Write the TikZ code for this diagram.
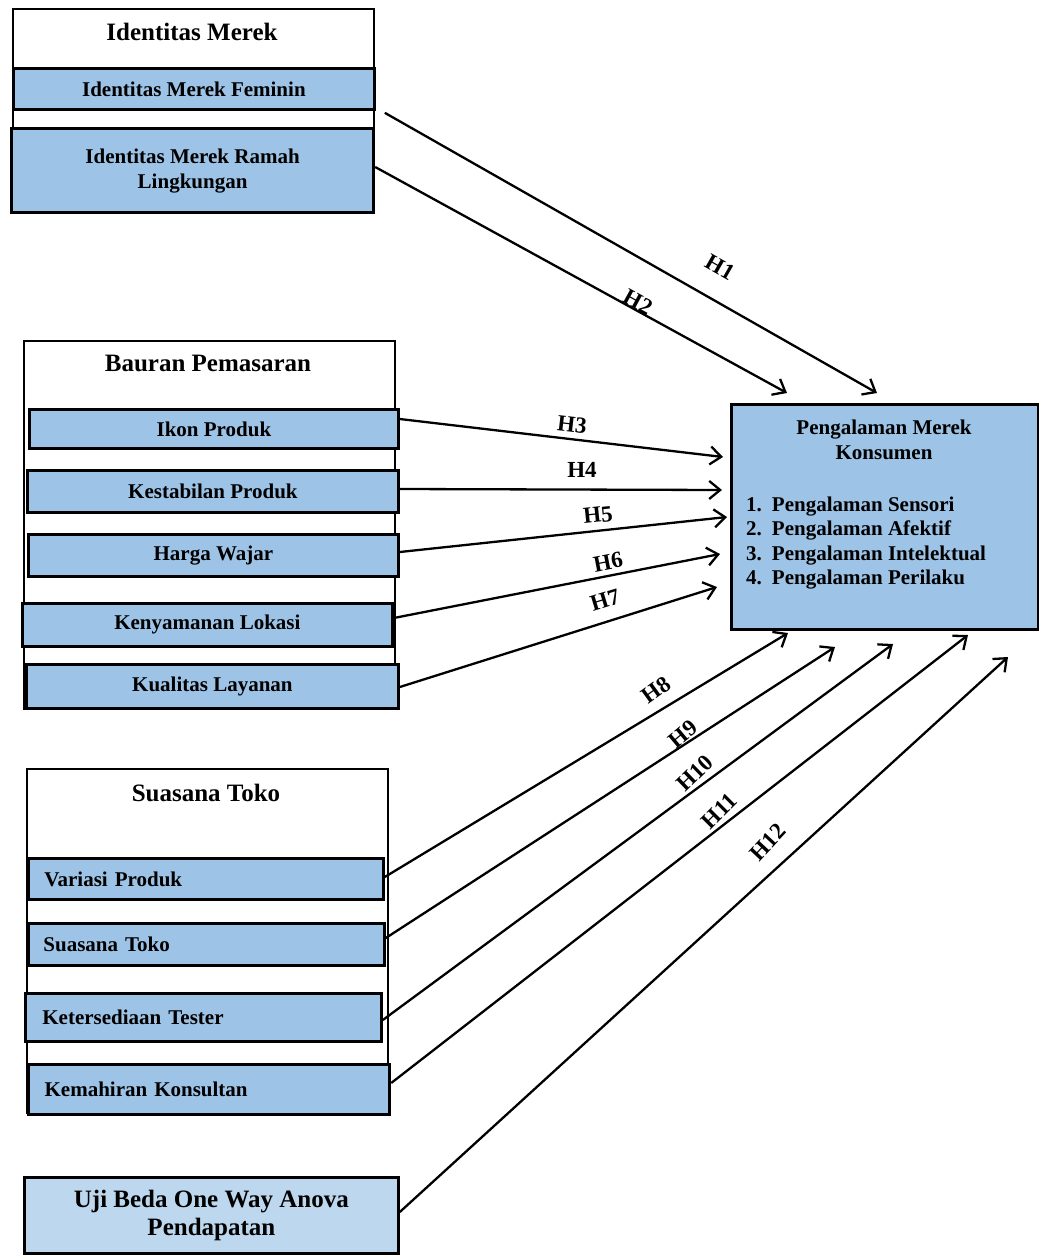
\documentclass[tikz,border=0pt]{standalone}
\usepackage{fontspec}
\setmainfont{Liberation Serif}
\usetikzlibrary{arrows.meta,calc}
\definecolor{boxblue}{RGB}{157,195,230}
\definecolor{lightblue}{RGB}{189,215,238}
\tikzset{
  grpbox/.style={draw=black, line width=2.2pt, fill=white, anchor=north west, inner sep=0pt},
  bluebox/.style={draw=black, line width=2.8pt, fill=boxblue, anchor=north west, inner sep=0pt,
    font=\fontsize{21}{25}\selectfont\bfseries, align=center},
  leftbox/.style={bluebox, align=left},
  hdr/.style={font=\fontsize{25}{28}\selectfont\bfseries, inner sep=0pt},
  arr/.style={line width=2.3pt, -{Straight Barb[length=11pt,width=18pt,line width=2.3pt]}},
  hlab/.style={font=\fontsize{23}{26}\selectfont\bfseries, inner sep=0pt},
}
\begin{document}
\begin{tikzpicture}[x=1pt,y=-1pt]
\useasboundingbox (0,0) rectangle (1039,1256);
\fill[white] (0,0) rectangle (1039,1256);

% Identitas Merek
\node[grpbox, minimum width=361pt, minimum height=202pt] (im) at (12,8) {};
\node[hdr] (imh) at (192,32) {Identitas Merek};
\node[bluebox, minimum width=361pt, minimum height=41pt] (fem) at (12,67) {Identitas Merek Feminin};
\node[bluebox, line width=3.2pt, minimum width=362pt, minimum height=84pt] (ramah) at (10,127) {Identitas Merek Ramah\\Lingkungan};

% Bauran Pemasaran
\node[grpbox, minimum width=371pt, minimum height=368pt] (bp) at (23,340) {};
\node[hdr] (bph) at (208,363) {Bauran Pemasaran};
\node[bluebox, minimum width=369pt, minimum height=39pt] (ikon) at (28,408) {Ikon Produk};
\node[bluebox, minimum width=371pt, minimum height=42pt] (kest) at (26,469) {Kestabilan Produk};
\node[bluebox, minimum width=370pt, minimum height=42pt] (harga) at (27,533) {Harga Wajar};
\node[bluebox, minimum width=370pt, minimum height=43pt] (keny) at (21,602) {Kenyamanan Lokasi};
\node[bluebox, minimum width=372pt, minimum height=44pt] (kual) at (25,663) {Kualitas Layanan};

% Suasana Toko
\node[grpbox, minimum width=361pt, minimum height=344pt] (st) at (26,768) {};
\node[hdr] (sth) at (206,793) {Suasana Toko};
\node[leftbox, minimum width=355pt, minimum height=41pt, text width=323pt, inner xsep=16pt] (var) at (27,857) {Variasi Produk};
\node[leftbox, minimum width=356pt, minimum height=42pt, text width=326pt, inner xsep=14pt] (sua) at (27,922) {Suasana Toko};
\node[leftbox, minimum width=356pt, minimum height=48pt, text width=322pt, inner xsep=17pt] (ket) at (24,992) {Ketersediaan Tester};
\node[leftbox, line width=3.2pt, minimum width=361pt, minimum height=50pt, text width=329pt, inner xsep=16pt] (kem) at (27,1063) {Kemahiran Konsultan};

% Uji
\node[bluebox, fill=lightblue, font=\fontsize{25}{28}\selectfont\bfseries, minimum width=374pt, minimum height=76pt] (uji) at (23,1176) {Uji Beda One Way Anova\\Pendapatan};

% Pengalaman Merek Konsumen
\node[bluebox, minimum width=307pt, minimum height=225pt] (pmk) at (730,403) {};
\node[font=\fontsize{21}{25}\selectfont\bfseries, align=center, inner sep=0pt] (pmkt) at (884,440) {Pengalaman Merek\\Konsumen};
\node[font=\fontsize{21}{24.3}\selectfont\bfseries, inner sep=0pt, anchor=west] (pmkl) at (746,543) {%
\begin{tabular}{@{}l@{\hspace{10pt}}l@{}}
1. & Pengalaman Sensori\\
2. & Pengalaman Afektif\\
3. & Pengalaman Intelektual\\
4. & Pengalaman Perilaku
\end{tabular}};

% arrow tips
\coordinate (t1) at (877,393);
\coordinate (t2) at (787,393);
\coordinate (t3) at (723,457);
\coordinate (t4) at (722,490);
\coordinate (t5) at (727,517);
\coordinate (t6) at (720,554);
\coordinate (t7) at (717,587);
\coordinate (t8) at (788,633);
\coordinate (t9) at (835,647);
\coordinate (t10) at (893,644);
\coordinate (t11) at (968,635);
\coordinate (t12) at (1008,657);

\draw[arr] ($(fem.south east)+(9,2)$) -- (t1);
\draw[arr] (ramah.east |- 0,167) -- (t2);
\draw[arr] (ikon.east |- 0,419) -- (t3);
\draw[arr] (kest.east |- 0,489) -- (t4);
\draw[arr] (harga.east |- 0,552) -- (t5);
\draw[arr] (keny.east |- 0,618) -- (t6);
\draw[arr] (kual.east |- 0,687) -- (t7);
\draw[arr] (var.east |- 0,877) -- (t8);
\draw[arr] (sua.east |- 0,938) -- (t9);
\draw[arr] (ket.east |- 0,1020) -- (t10);
\draw[arr] (kem.east |- 0,1083) -- (t11);
\draw[arr] (uji.east |- 0,1212) -- (t12);

% labels
\node[hlab, rotate=-29.8] (h1) at (720,267) {H1};
\node[hlab, rotate=-28.6] (h2) at (638,302) {H2};
\node[hlab, rotate=-6.6] (h3) at (572,425) {H3};
\node[hlab] (h4) at (582,470) {H4};
\node[hlab, rotate=6] (h5) at (598,515) {H5};
\node[hlab, rotate=11] (h6) at (608,562) {H6};
\node[hlab, rotate=17] (h7) at (605,600) {H7};
\node[hlab, rotate=36] (h8) at (656,690) {H8};
\node[hlab, rotate=40] (h9) at (683,734) {H9};
\node[hlab, rotate=44] (h10) at (695,773) {H10};
\node[hlab, rotate=45] (h11) at (719,811) {H11};
\node[hlab, rotate=47] (h12) at (768,842) {H12};
\end{tikzpicture}
\end{document}
